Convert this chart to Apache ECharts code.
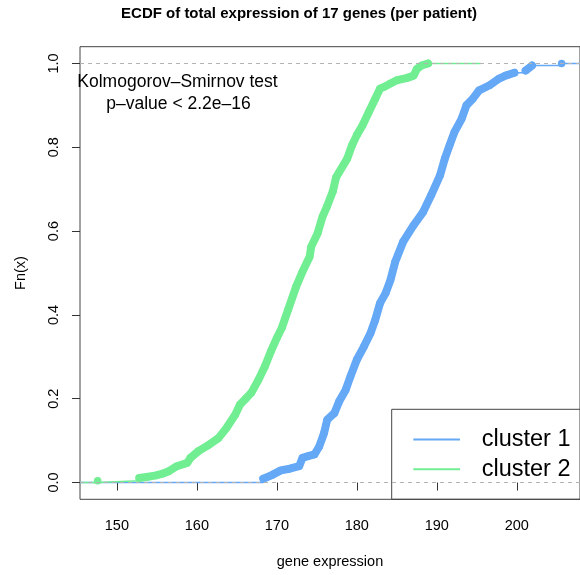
<!DOCTYPE html>
<html>
<head>
<meta charset="UTF-8">
<title>ECDF of total expression</title>
<script src="https://cdn.jsdelivr.net/npm/echarts@6/dist/echarts.min.js"></script>
<style>
html, body { margin: 0; padding: 0; background: #fff; }
#chart { width: 580px; height: 575px; }
</style>
</head>
<body>
<div id="chart"></div>
<script type="text/javascript">
// axis ranges / ticks
var xTicks = [150, 160, 170, 180, 190, 200];
var yTicks = [0, 0.2, 0.4, 0.6, 0.8, 1.0];
var xMin = 145.39, xMax = 207.9;

// ECDF points (x = gene expression, F = Fn(x))
var cluster1X = [168.3, 169.3, 170.5, 171.6, 172.8, 173.2, 173.9, 174.7, 175.3, 175.9,
                 176.3, 177.2, 177.8, 178.6, 179.2, 180.0, 180.9, 181.7, 182.3, 182.9,
                 183.6, 184.2, 184.8, 185.8, 187.1, 188.3, 189.3, 190.4, 191.0, 191.6,
                 192.2, 193.1, 193.7, 194.5, 195.3, 196.6, 197.8, 198.6, 199.7, 201.1,
                 201.9, 205.6];
var cluster1F = [0.009, 0.017, 0.029, 0.033, 0.039, 0.059, 0.063, 0.067, 0.086, 0.118,
                 0.150, 0.166, 0.194, 0.221, 0.253, 0.293, 0.325, 0.356, 0.388, 0.428,
                 0.452, 0.483, 0.527, 0.575, 0.614, 0.646, 0.686, 0.733, 0.773, 0.805,
                 0.836, 0.868, 0.900, 0.916, 0.936, 0.948, 0.964, 0.971, 0.978, 0.983,
                 0.995, 1.000];
var cluster2X = [147.6, 152.8, 153.9, 154.9, 155.7, 156.5, 157.5, 158.8, 159.2, 160.2,
                 161.5, 162.7, 163.7, 164.8, 165.4, 166.1, 166.8, 167.7, 168.5, 169.3,
                 170.0, 170.6, 171.4, 172.4, 173.2, 174.1, 174.3, 175.1, 175.7, 176.3,
                 177.0, 177.4, 177.8, 178.8, 179.4, 180.0, 180.7, 181.5, 182.3, 182.9,
                 183.4, 184.2, 185.0, 186.2, 187.1, 187.5, 188.1, 188.9];
var cluster2F = [0.004, 0.011, 0.014, 0.017, 0.021, 0.027, 0.039, 0.047, 0.059, 0.075,
                 0.090, 0.106, 0.130, 0.162, 0.186, 0.200, 0.214, 0.245, 0.277, 0.315,
                 0.345, 0.368, 0.412, 0.467, 0.503, 0.539, 0.563, 0.595, 0.634, 0.660,
                 0.695, 0.728, 0.741, 0.773, 0.805, 0.829, 0.852, 0.884, 0.916, 0.940,
                 0.944, 0.952, 0.960, 0.965, 0.971, 0.987, 0.995, 1.000];
// where the horizontal line at 1 ends for each cluster
var cluster1End = xMax;
var cluster2End = 195.5;

var blue = '#64a8f6';
var green = '#71ee92';
var font = '"Liberation Sans", Arial, Helvetica, sans-serif';
var gapLimit = 1.35; // dots further apart than this are joined by the thin step line only

// thin step line: flat ends at 0 and 1 plus the sparse stretches
function stepData(xs, fs, endX) {
	var d = [{ value: [xMin, 0], symbol: 'none' }];
	for (var i = 0; i < xs.length; i++) {
		if (i > 0 && xs[i] - xs[i - 1] <= gapLimit) d.push(['-', '-']);
		d.push([xs[i], fs[i]]);
	}
	d.push({ value: [endX, 1], symbol: 'none' });
	return d;
}
// thick band where the dots are packed together
function bandData(xs, fs) {
	var d = [];
	for (var i = 0; i < xs.length; i++) {
		if (i > 0 && xs[i] - xs[i - 1] > gapLimit) d.push(['-', '-']);
		d.push([xs[i], fs[i]]);
	}
	return d;
}

function stepSeries(name, color, xs, fs, endX, withRefLines) {
	var s = {
		name: name,
		type: 'line',
		step: 'end',
		data: stepData(xs, fs, endX),
		connectNulls: false,
		symbol: 'circle',
		symbolSize: 7.5,
		showSymbol: true,
		showAllSymbol: true,
		itemStyle: { color: color },
		lineStyle: { color: color, width: 1.5 },
		emphasis: { disabled: true },
		silent: true
	};
	if (withRefLines) {
		s.markLine = {
			silent: true,
			symbol: ['none', 'none'],
			label: { show: false },
			lineStyle: { color: '#b3b3b3', type: [4, 4], width: 1 },
			data: [{ yAxis: 0 }, { yAxis: 1 }]
		};
	}
	return s;
}
function bandSeries(color, xs, fs) {
	return {
		type: 'line',
		data: bandData(xs, fs),
		showSymbol: false,
		connectNulls: false,
		lineStyle: { color: color, width: 8, cap: 'round', join: 'round' },
		emphasis: { disabled: true },
		silent: true
	};
}

var chart = echarts.init(document.getElementById('chart'), null, { renderer: 'canvas' });
var option = {
	animation: false,
	backgroundColor: '#fff',
	grid: {
		left: 80, top: 46.7, right: -5.6, bottom: 75.7,
		show: true, borderColor: '#444', borderWidth: 1, backgroundColor: 'transparent'
	},
	xAxis: {
		type: 'value',
		min: xMin, max: xMax,
		name: 'gene expression',
		nameLocation: 'middle',
		nameGap: 55,
		nameTextStyle: { fontFamily: font, fontSize: 14.5, color: '#000' },
		axisLine: { show: false },
		splitLine: { show: false },
		axisTick: { show: true, customValues: xTicks, length: 8, lineStyle: { color: '#333' } },
		axisLabel: { customValues: xTicks, margin: 19, fontFamily: font, fontSize: 14.5, color: '#000' }
	},
	yAxis: {
		type: 'value',
		min: -0.04, max: 1.04,
		name: 'Fn(x)',
		nameLocation: 'middle',
		nameGap: 52,
		nameTextStyle: { fontFamily: font, fontSize: 14.5, color: '#000' },
		axisLine: { show: false },
		splitLine: { show: false },
		axisTick: { show: true, customValues: yTicks, length: 8, lineStyle: { color: '#333' } },
		axisLabel: {
			customValues: yTicks, margin: 19, rotate: 90,
			fontFamily: font, fontSize: 14.5, color: '#000',
			formatter: function (v) { return v.toFixed(1); }
		}
	},
	series: [
		stepSeries('cluster 1', blue, cluster1X, cluster1F, cluster1End, true),
		bandSeries(blue, cluster1X, cluster1F),
		stepSeries('cluster 2', green, cluster2X, cluster2F, cluster2End, false),
		bandSeries(green, cluster2X, cluster2F)
	],
	graphic: [
		{ type: 'text', x: 299, y: 14, style: { text: 'ECDF of total expression of 17 genes (per patient)', font: 'bold 15px ' + font, fill: '#000', align: 'center', verticalAlign: 'middle' } },
		{ type: 'text', x: 177.5, y: 82, style: { text: 'Kolmogorov\u2013Smirnov test', font: '17.5px ' + font, fill: '#000', align: 'center', verticalAlign: 'middle' } },
		{ type: 'text', x: 178.5, y: 104, style: { text: 'p\u2013value < 2.2e\u201316', font: '17.5px ' + font, fill: '#000', align: 'center', verticalAlign: 'middle' } },
		// legend box (bottom right, runs off the right edge like the plot box)
		{ type: 'rect', shape: { x: 391.7, y: 409.3, width: 300, height: 90 }, style: { fill: 'none', stroke: '#444', lineWidth: 1 } },
		{ type: 'line', shape: { x1: 413.3, y1: 439.5, x2: 460, y2: 439.5 }, style: { stroke: blue, lineWidth: 2 } },
		{ type: 'line', shape: { x1: 413.3, y1: 469.3, x2: 460, y2: 469.3 }, style: { stroke: green, lineWidth: 2 } },
		{ type: 'text', x: 481.7, y: 439.5, style: { text: 'cluster 1', font: '23.5px ' + font, fill: '#000', align: 'left', verticalAlign: 'middle' } },
		{ type: 'text', x: 481.7, y: 469.3, style: { text: 'cluster 2', font: '23.5px ' + font, fill: '#000', align: 'left', verticalAlign: 'middle' } }
	]
};
chart.setOption(option);
</script>
</body>
</html>
